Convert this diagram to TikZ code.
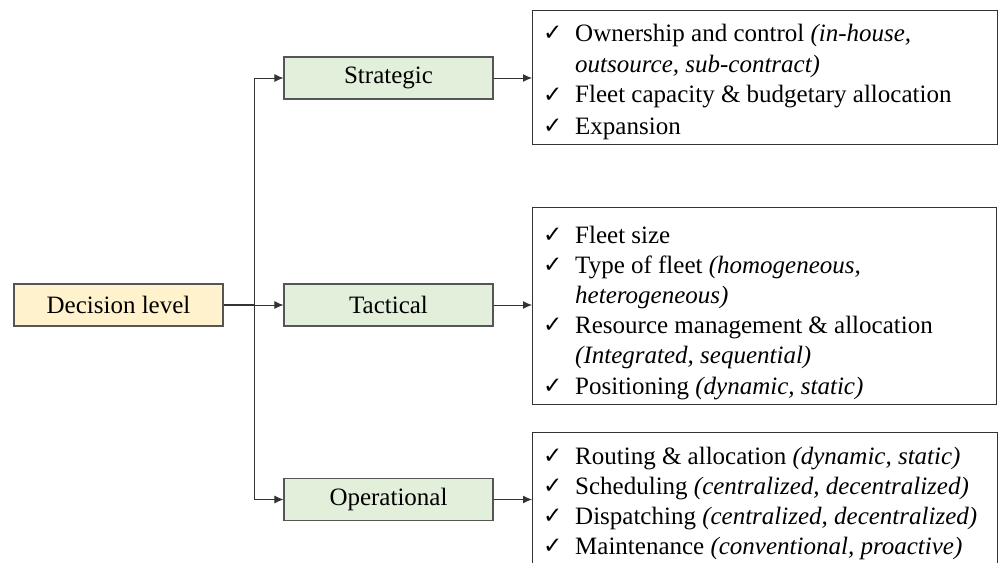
\documentclass[tikz,border=0pt]{standalone}
\usepackage{fontspec}
\setmainfont{Liberation Serif}
\newfontfamily\checkfont{DejaVu Sans}
\usetikzlibrary{arrows.meta}
\definecolor{decfill}{HTML}{FFF2CC}
\definecolor{lvlfill}{HTML}{E2EFDA}
\definecolor{lvledge}{HTML}{555555}
\definecolor{wire}{HTML}{333333}
\newcommand\tick{\raisebox{1pt}{\fontsize{23}{23}\checkfont ✓}}
\begin{document}
\begin{tikzpicture}[x=1pt,y=-1pt,
  font=\fontsize{25}{31}\selectfont,
  levelbox/.style={draw=lvledge, line width=1.1pt, fill=lvlfill,
    minimum width=209pt, minimum height=42pt, inner sep=0pt},
  decbox/.style={levelbox, fill=decfill},
  listbox/.style={draw=wire, line width=1.1pt, fill=white, anchor=north west, inner sep=0pt},
  listtext/.style={anchor=base west, inner sep=0pt},
  conn/.style={draw=wire, line width=1pt},
  arr/.style={conn, -{Latex[length=9pt,width=8pt]}}]
  \useasboundingbox (0,0) rectangle (998,562);
  \clip (0,0) rectangle (998,562);
  \fill[white] (0,0) rectangle (998,562);

  % decision levels
  \node[decbox]   (dec) at (118.5,305) {Decision level};
  \node[levelbox] (str) at (388.5,78)  {Strategic};
  \node[levelbox] (tac) at (388.5,305) {Tactical};
  \node[levelbox] (ope) at (388.5,499.5) {Operational};

  % branching trunk
  \coordinate (jt) at (254,78);
  \coordinate (jm) at (254,305);
  \coordinate (jb) at (254,499.5);
  \draw[conn] (jt) -- (jb);
  \draw[conn, line width=1.8pt] (dec.east) -- (jm);
  \draw[arr] (jt) -- (str.west);
  \draw[arr] (jm) -- (tac.west);
  \draw[arr] (jb) -- (ope.west);

  % detail boxes
  \node[listbox, minimum width=465pt, minimum height=134pt] (sbox) at (532,10) {};
  \node[listbox, minimum width=464pt, minimum height=197pt] (tbox) at (532,207) {};
  \node[listbox, minimum width=465pt, minimum height=145pt] (obox) at (532,432) {};

  \draw[arr] (str.east) -- (str.east -| sbox.west);
  \draw[arr] (tac.east) -- (tac.east -| tbox.west);
  \draw[arr] (ope.east) -- (ope.east -| obox.west);

  \node[listtext] (stxt) at (543,41) {\begin{tabular}[t]{@{}p{32pt}@{}l@{}}
    \tick & Ownership and control \textit{(in-house,}\\
          & \textit{outsource, sub-contract)}\\
    \tick & Fleet capacity \& budgetary allocation\\
    \tick & Expansion
  \end{tabular}};

  \node[listtext] (ttxt) at (543,243) {\fontsize{25}{30.2}\selectfont\begin{tabular}[t]{@{}p{32pt}@{}l@{}}
    \tick & Fleet size\\
    \tick & Type of fleet \textit{(homogeneous,}\\
          & \textit{heterogeneous)}\\
    \tick & Resource management \& allocation\\
          & \textit{(Integrated, sequential)}\\
    \tick & Positioning \textit{(dynamic, static)}
  \end{tabular}};

  \node[listtext] (otxt) at (543,464) {\fontsize{25}{30}\selectfont\begin{tabular}[t]{@{}p{32pt}@{}l@{}}
    \tick & Routing \& allocation \textit{(dynamic, static)}\\
    \tick & Scheduling \textit{(centralized, decentralized)}\\
    \tick & Dispatching \textit{(centralized, decentralized)}\\
    \tick & Maintenance \textit{(conventional, proactive)}
  \end{tabular}};
\end{tikzpicture}
\end{document}
